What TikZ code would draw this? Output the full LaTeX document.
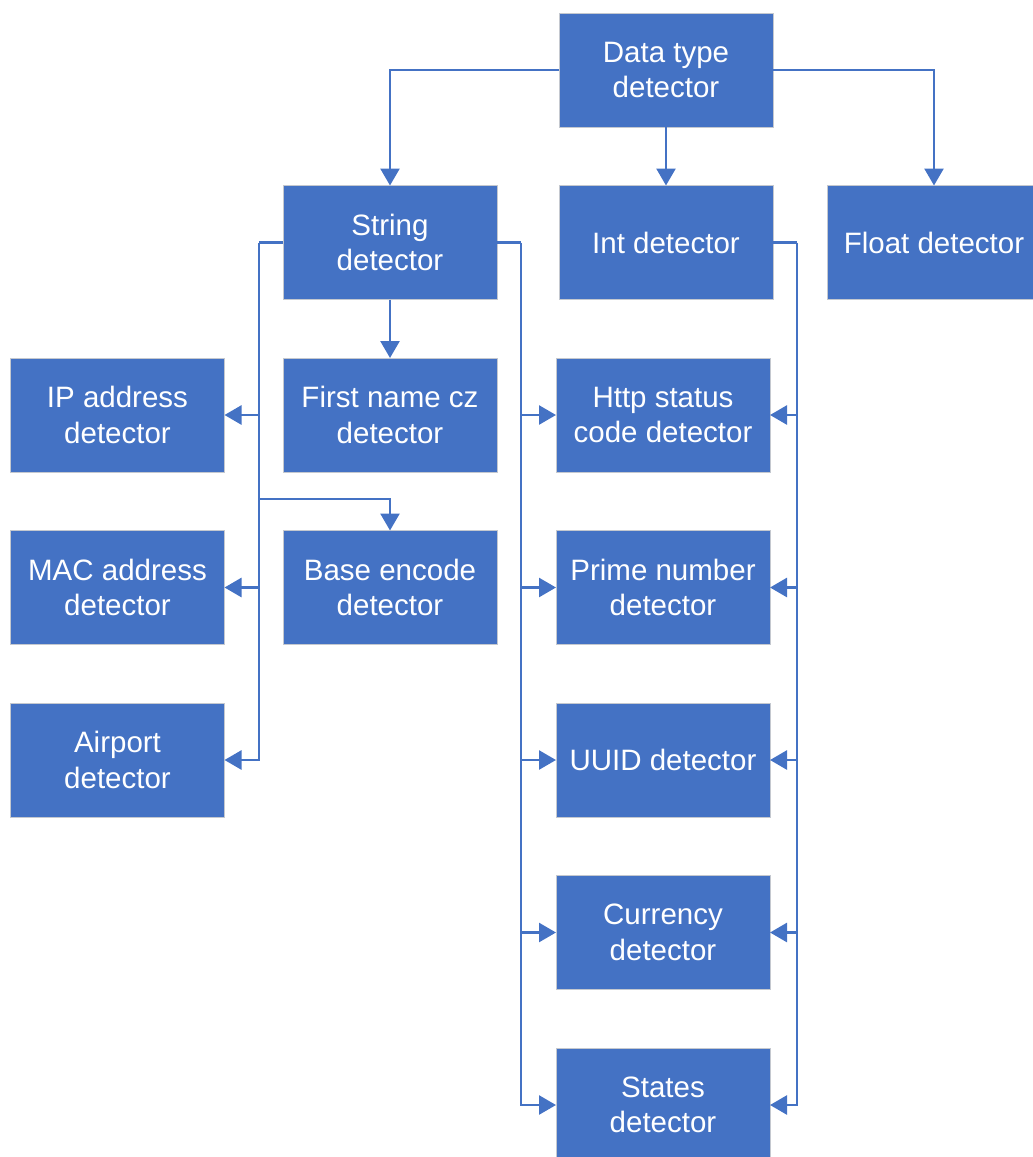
\documentclass[tikz,border=0pt]{standalone}
\usepackage{fontspec}
\setmainfont{Liberation Sans}
\usetikzlibrary{arrows.meta, positioning, calc}
\definecolor{detblue}{HTML}{4472C4}
\definecolor{edgegray}{HTML}{C4C8CF}

\begin{document}
\begin{tikzpicture}[x=1pt, y=-1pt,
  box/.style={draw=edgegray, line width=1pt, fill=detblue, text=white, align=center,
    minimum width=214pt, minimum height=114pt, inner sep=0pt, outer sep=0pt,
    font=\fontsize{29.5}{35.5}\selectfont},
  arr/.style={-{Triangle[length=17pt, width=19pt]}, line width=2.6pt, detblue},
  bus/.style={line width=2.6pt, detblue}]
\path[use as bounding box] (0,0) rectangle (1033,1157);
\clip (0,0) rectangle (1033,1157);
\node[box] (dt) at (666,70) {Data type\\detector};
\node[box, below=58.5pt of dt] (int) {Int detector};
\node[box, left=62pt of int] (str) {String\\detector};
\node[box, right=54pt of int] (flt) {Float detector};
\node[box, below=58.5pt of str] (fn) {First name cz\\detector};
\node[box, left=58.5pt of fn] (ip) {IP address\\detector};
\node[box, right=59pt of fn] (http) {Http status\\code detector};
\node[box, below=58.5pt of fn] (base) {Base encode\\detector};
\node[box, below=58.5pt of ip] (mac) {MAC address\\detector};
\node[box, below=58.5pt of http] (prime) {Prime number\\detector};
\node[box, below=58.5pt of mac] (air) {Airport\\detector};
\node[box, below=58.5pt of prime] (uuid) {UUID detector};
\node[box, below=58.5pt of uuid] (cur) {Currency\\detector};
\node[box, below=58.5pt of cur] (sta) {States\\detector};
\coordinate (lb) at ($(str.west)+(-24,0)$);
\coordinate (rb) at ($(str.east)+(24,0)$);
\coordinate (ib) at ($(int.east)+(24,0)$);
\coordinate (bj) at ($(lb |- fn.south)+(0,27)$);
\draw[arr] (dt.west) -| (str.north);
\draw[arr] (dt) -- (int);
\draw[arr] (dt.east) -| (flt.north);
\draw[arr] (str) -- (fn);
\draw[bus] (str.west) -- (lb);
\draw[arr] (lb) |- (air.east);
\draw[arr] (lb |- ip) -- (ip.east);
\draw[arr] (lb |- mac) -- (mac.east);
\draw[arr] (bj) -| (base.north);
\draw[bus] (str.east) -- (rb);
\draw[arr] (rb) |- (sta.west);
\draw[bus] (int.east) -- (ib);
\draw[arr] (ib) |- (sta.east);
\foreach \n in {http, prime, uuid, cur} {
  \draw[arr] (rb |- \n) -- (\n.west);
  \draw[arr] (ib |- \n) -- (\n.east);
}
\end{tikzpicture}
\end{document}
